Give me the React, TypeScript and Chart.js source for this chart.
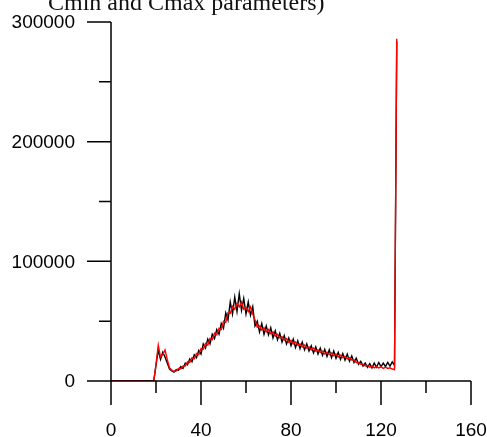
import React, { useEffect, useRef } from "react";
import { Chart, registerables } from "chart.js";

Chart.register(...registerables);

const titleText = "Cmin and Cmax parameters)";

const xMajorTicks = [0, 40, 80, 120, 160];
const xMinorTicks = [20, 60, 100, 140];
const yMajorTicks = [0, 100000, 200000, 300000];
const yMinorTicks = [50000, 150000, 250000];

const blackSeries = [
  0, 0, 0, 0, 0, 0, 0, 0, 0, 0,
  0, 0, 0, 0, 0, 0, 0, 0, 0, 0,
  13000, 26000, 18000, 24000, 20000, 15000, 10000, 8500, 7500, 9500,
  9000, 12000, 10500, 15000, 13500, 18500, 16000, 22000, 19500, 25500,
  22500, 31000, 27500, 35000, 31000, 39000, 35500, 43000, 39000, 48000,
  44000, 57000, 51000, 66000, 56000, 70000, 58000, 73000, 59000, 69000,
  56000, 66000, 55000, 62000, 46000, 50000, 41000, 48000, 39000, 46000,
  38500, 44500, 36000, 42000, 34500, 40000, 32500, 38000, 31000, 36000,
  29500, 35000, 28000, 33500, 27000, 32500, 26000, 31000, 25000, 29500,
  23500, 28500, 22500, 27500, 21500, 26500, 20500, 26000, 19500, 25000,
  19000, 24000, 18000, 23000, 17500, 22500, 16500, 21000, 15500, 19000,
  14000, 16500, 12500, 15000, 11500, 14500, 11000, 15000, 11500, 15500,
  12000, 15000, 12000, 15500, 12500, 16000, 13000, 284000,
];

const redSeries = [
  0, 0, 0, 0, 0, 0, 0, 0, 0, 0,
  0, 0, 0, 0, 0, 0, 0, 0, 0, 0,
  14000, 30000, 20000, 22000, 26000, 18000, 11000, 9000, 8000, 8500,
  10500, 10000, 12500, 12500, 16000, 15500, 19500, 18500, 23000, 22000,
  27000, 26500, 31500, 30000, 35500, 34500, 40000, 38500, 44000, 43000,
  50000, 49000, 57000, 56500, 62500, 60000, 65000, 62000, 66000, 60000,
  61500, 58000, 62000, 56000, 51000, 45000, 46000, 42500, 44500, 41000,
  43000, 39500, 41000, 37500, 39000, 36000, 37000, 34000, 35500, 32500,
  34000, 31000, 32500, 30000, 31000, 28500, 30000, 27500, 28500, 26000,
  27500, 25000, 26000, 24000, 25000, 22500, 24000, 22000, 23500, 21000,
  22500, 20000, 21500, 19500, 20500, 18500, 19500, 17500, 17500, 15500,
  15500, 14000, 14000, 12500, 13000, 11500, 12500, 11000, 12000, 11000,
  12000, 10500, 11500, 10500, 11000, 10000, 9500, 286000,
];

const axesPlugin = {
  id: "customAxes",
  afterDraw(chart: any) {
    const ctx = chart.ctx;
    const xs = chart.scales.x;
    const ys = chart.scales.y;
    const x0 = xs.getPixelForValue(0);
    const y0 = ys.getPixelForValue(0);
    const majorLen = 24;
    const minorLen = 12;
    ctx.save();
    ctx.strokeStyle = "#000";
    ctx.lineWidth = 1.5;
    ctx.beginPath();
    ctx.moveTo(x0 - majorLen, y0);
    ctx.lineTo(xs.getPixelForValue(160), y0);
    ctx.moveTo(x0, ys.getPixelForValue(300000));
    ctx.lineTo(x0, y0 + majorLen);
    xMajorTicks.forEach((v) => {
      const px = xs.getPixelForValue(v);
      ctx.moveTo(px, y0);
      ctx.lineTo(px, y0 + majorLen);
    });
    xMinorTicks.forEach((v) => {
      const px = xs.getPixelForValue(v);
      ctx.moveTo(px, y0);
      ctx.lineTo(px, y0 + minorLen);
    });
    yMajorTicks.forEach((v) => {
      const py = ys.getPixelForValue(v);
      ctx.moveTo(x0, py);
      ctx.lineTo(x0 - majorLen, py);
    });
    yMinorTicks.forEach((v) => {
      const py = ys.getPixelForValue(v);
      ctx.moveTo(x0, py);
      ctx.lineTo(x0 - minorLen, py);
    });
    ctx.stroke();

    ctx.fillStyle = "#000";
    ctx.font = '19px "Liberation Sans", Arial, sans-serif';
    ctx.textAlign = "right";
    ctx.textBaseline = "middle";
    yMajorTicks.forEach((v) => {
      ctx.fillText(String(v), 75, ys.getPixelForValue(v) + 1);
    });
    ctx.textAlign = "center";
    ctx.textBaseline = "alphabetic";
    xMajorTicks.forEach((v) => {
      ctx.fillText(String(v), xs.getPixelForValue(v), 436);
    });

    ctx.font = '24px "Liberation Serif", "Times New Roman", serif';
    ctx.textAlign = "left";
    ctx.fillStyle = "#111";
    ctx.fillText(titleText, 48, 10);
    ctx.restore();
  },
};

export default function App() {
  const canvasRef = useRef<HTMLCanvasElement | null>(null);

  useEffect(() => {
    const canvas = canvasRef.current;
    if (!canvas) return;
    const chart = new Chart(canvas, {
      type: "line",
      data: {
        datasets: [
          {
            label: "black",
            data: blackSeries.map((y, i) => ({ x: i, y })),
            borderColor: "#000000",
            borderWidth: 1.4,
            pointRadius: 0,
            tension: 0,
            fill: false,
            order: 1,
          },
          {
            label: "red",
            data: redSeries.map((y, i) => ({ x: i, y })),
            borderColor: "#ff0000",
            borderWidth: 1.4,
            pointRadius: 0,
            tension: 0,
            fill: false,
            order: 0,
          },
        ],
      },
      options: {
        responsive: false,
        animation: false,
        devicePixelRatio: 1,
        layout: { padding: { left: 111, top: 22, right: 16, bottom: 56 } },
        plugins: {
          legend: { display: false },
          tooltip: { enabled: false },
          title: { display: false },
        },
        scales: {
          x: { type: "linear", min: 0, max: 160, display: false },
          y: { type: "linear", min: 0, max: 300000, display: false },
        },
        events: [],
      },
      plugins: [axesPlugin],
    });
    return () => chart.destroy();
  }, []);

  return (
    <div style={{ position: "absolute", left: 0, top: 0, width: 487, height: 437 }}>
      <canvas ref={canvasRef} width={487} height={437} style={{ display: "block" }} />
    </div>
  );
}
